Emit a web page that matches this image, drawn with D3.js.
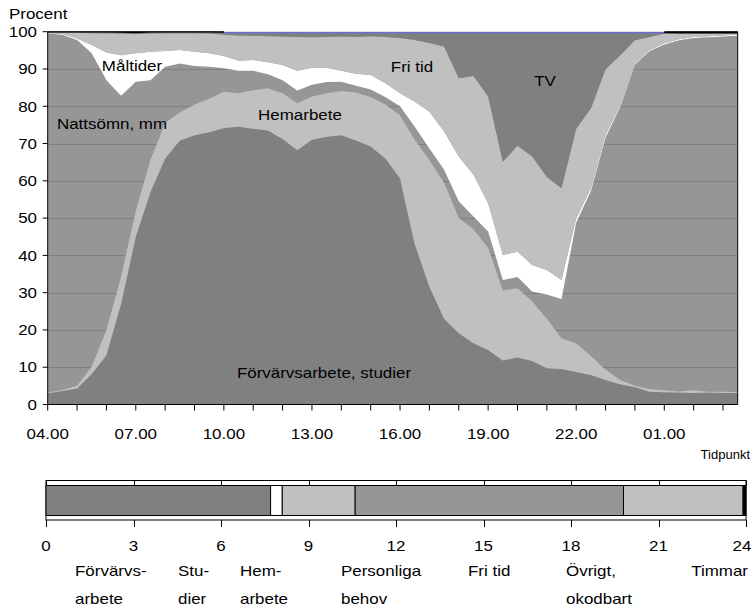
<!DOCTYPE html>
<html><head><meta charset="utf-8">
<script src="https://cdn.jsdelivr.net/npm/d3@7"></script>
<style>body{margin:0;background:#fff}text{font-family:"Liberation Sans",Arial,sans-serif;fill:#000}</style>
</head><body><svg id="c" width="753" height="608"></svg>
<script>
// ---- DATA (percent of population, half-hour points 04.00 ... 03.30) ----
const timeLabels = ["04.00","07.00","10.00","13.00","16.00","19.00","22.00","01.00"];
const seriesNames = ["Förvärvsarbete, studier","Hemarbete","Nattsömn, mm","Måltider","Fri tid","TV","Övrigt"];
const forvarv   = [3.0,3.6,4.3,8.2,13.2,27.0,45.0,57.0,66.0,70.8,72.2,73.0,74.2,74.5,74.0,73.5,71.2,68.2,71.0,71.8,72.2,70.8,69.2,66.0,60.7,43.0,31.6,23.0,19.1,16.4,14.6,11.8,12.6,11.7,9.7,9.5,8.7,7.9,6.6,5.4,4.6,3.4,3.3,3.2,3.1,3.2,3.1,3.1];
const hemarbete = [0.2,0.3,0.7,1.9,6.8,7.3,7.0,8.6,9.5,7.5,8.3,9.0,9.7,9.0,10.3,11.3,12.3,12.6,11.6,11.7,11.9,12.9,13.3,14.5,16.8,28.0,33.9,36.5,30.9,30.6,27.4,18.8,18.6,15.9,13.3,8.3,7.7,5.1,2.7,1.2,0.4,0.7,0.5,0.3,0.7,0.2,0.3,0.2];
const nattsomn  = [96.3,95.3,92.8,84.1,67.0,48.5,34.6,21.4,15.1,13.2,10.3,8.6,6.3,6.0,5.2,3.8,3.5,3.4,3.2,3.0,2.5,1.8,2.0,2.0,2.5,3.5,3.2,3.5,4.5,3.4,4.4,2.8,3.0,2.7,6.5,10.5,32.4,44.3,62.3,73.3,86.2,90.7,92.8,94.2,94.5,95.1,95.3,95.6];
const maltider  = [0.1,0.2,0.4,2.2,7.4,10.9,7.6,7.6,4.2,3.6,3.8,3.6,3.3,2.7,2.9,3.2,4.1,5.3,4.5,3.8,2.9,3.2,3.9,3.7,3.5,6.7,9.8,10.2,12.0,11.2,7.6,6.7,6.8,7.1,6.6,5.1,1.1,0.7,0.7,0.4,0.3,0.3,0.3,0.3,0.3,0.3,0.3,0.3];
const friTid    = [0.2,0.4,1.5,3.2,5.2,5.8,5.2,4.9,4.8,4.5,5.0,5.3,5.7,6.8,6.5,7.0,7.6,9.1,8.2,8.3,9.2,9.9,10.4,12.4,14.8,16.6,18.5,22.8,21.0,26.5,28.6,25.0,28.4,29.1,24.9,24.6,24.1,21.4,17.6,13.4,6.2,3.5,2.6,1.5,0.9,0.7,0.5,0.3];
const tv        = [0,0,0.1,0.2,0.2,0.2,0.2,0.3,0.2,0.2,0.2,0.3,0.5,0.7,0.8,0.9,1.0,1.1,1.2,1.1,1.0,1.1,0.9,1.1,1.4,1.9,2.7,3.7,12.2,11.6,17.1,34.6,30.3,33.2,38.7,41.7,25.7,20.3,9.8,6.0,2.0,1.1,0.1,0,0,0,0,0];
const ovrigt    = [0.2,0.2,0.2,0.2,0.2,0.3,0.4,0.2,0.2,0.2,0.2,0.2,0.3,0.3,0.3,0.3,0.3,0.3,0.3,0.3,0.3,0.3,0.3,0.3,0.3,0.3,0.3,0.3,0.3,0.3,0.3,0.3,0.3,0.3,0.3,0.3,0.3,0.3,0.3,0.3,0.3,0.3,0.4,0.5,0.5,0.5,0.5,0.5];
const yTicks = [0,10,20,30,40,50,60,70,80,90,100];

// 24-hour bar (hours per average day)
const barCategories = ["Förvärvsarbete","Studier","Hemarbete","Personliga behov","Fri tid","Övrigt, okodbart"];
const barHours = [7.7,0.4,2.5,9.2,4.1,0.1];
const barLabelLines = [["Förvärvs-","arbete"],["Stu-","dier"],["Hem-","arbete"],["Personliga","behov"],["Fri tid"],["Övrigt,","okodbart"]];
const hourTicks = [0,3,6,9,12,15,18,21,24];

// ---- DRAWING ----
const svg = d3.select("#c");
svg.append("rect").attr("width",753).attr("height",608).attr("fill","#fff");
const SX = 1.13;
function txt(g, px, py, s, anchor, size, sx){
  return g.append("text").attr("transform",`translate(${px},${py}) scale(${sx||SX},1)`)
    .attr("text-anchor",anchor||"start").attr("dy","0.35em")
    .style("font-size",(size||15)+"px").text(s);
}

const n = forvarv.length;
const x = d3.scaleLinear().domain([0,n-1]).range([47.7,737.7]);
const y = d3.scaleLinear().domain([0,100]).range([404.5,31.7]);

const rows = d3.range(n).map(i=>({i, forv:forvarv[i], hem:hemarbete[i], natt:nattsomn[i], malt:maltider[i], fri:friTid[i], tv:tv[i], ovr:ovrigt[i]}));
const keys = ["forv","hem","natt","malt","fri","tv","ovr"];
const fills = {forv:"#808080", hem:"#c0c0c0", natt:"none", malt:"#ffffff", fri:"#c0c0c0", tv:"#808080", ovr:"#000000"};
const stacked = d3.stack().keys(keys)(rows);

svg.append("clipPath").attr("id","pc").append("rect")
  .attr("x",x(0)).attr("y",y(100)).attr("width",x(n-1)-x(0)).attr("height",y(0)-y(100));
const plot = svg.append("g").attr("clip-path","url(#pc)");
plot.append("rect").attr("x",x(0)).attr("y",y(100)).attr("width",x(n-1)-x(0)).attr("height",y(0)-y(100)).attr("fill","#969696");
plot.selectAll("line.grid").data(yTicks.filter(t=>t>0&&t<100)).join("line")
  .attr("x1",x(0)).attr("x2",x(n-1)).attr("y1",d=>Math.round(y(d))+0.5).attr("y2",d=>Math.round(y(d))+0.5)
  .attr("stroke","#808080").attr("stroke-width",1);
const area = d3.area().x(d=>x(d.data.i)).y0(d=>y(d[0])).y1(d=>y(d[1]));
plot.selectAll("path.layer").data(stacked).join("path")
  .attr("d",area).attr("fill",d=>fills[d.key]).attr("stroke","none");
// blue top edge (okodbart) 10.00 - 01.00
const topLine = d3.line().x(d=>x(d.data.i)).y(d=>y(d[1])+0.8);
plot.append("path").attr("d",topLine(stacked[6].filter(d=>d.data.i>=12&&d.data.i<=42)))
  .attr("fill","none").attr("stroke","#6b6bd8").attr("stroke-width",1.6);

// frame & axes
const ax = svg.append("g").attr("stroke","#000").attr("stroke-width",1).attr("fill","none");
ax.append("line").attr("x1",x(0)).attr("x2",x(0)).attr("y1",y(100)).attr("y2",y(0));
ax.append("line").attr("x1",x(0)).attr("x2",x(n-1)).attr("y1",y(0)).attr("y2",y(0));
ax.append("line").attr("x1",x(n-1)).attr("x2",x(n-1)).attr("y1",y(100)).attr("y2",y(0));
ax.append("line").attr("x1",x(0)).attr("x2",x(12)).attr("y1",y(100)).attr("y2",y(100));
ax.append("line").attr("x1",x(42)).attr("x2",x(n-1)).attr("y1",y(100)).attr("y2",y(100));
ax.selectAll("line.yt").data(yTicks).join("line").attr("x1",x(0)-5).attr("x2",x(0)).attr("y1",d=>y(d)).attr("y2",d=>y(d));
ax.selectAll("line.xt").data(d3.range(0,n,2)).join("line").attr("x1",d=>x(d)).attr("x2",d=>x(d)).attr("y1",y(0)).attr("y2",y(0)+6);

const tg = svg.append("g");
yTicks.forEach(t=>txt(tg, 37, y(t), String(t), "end"));
timeLabels.forEach((l,k)=>txt(tg, x(k*6), 434, l, "middle"));
txt(tg, 9, 14, "Procent", "start");
txt(tg, 750, 454, "Tidpunkt", "end", 13, 1.0);

// in-plot labels
txt(tg, 132, 66, "Måltider", "middle");
txt(tg, 112, 124, "Nattsömn, mm", "middle");
txt(tg, 300, 115, "Hemarbete", "middle");
txt(tg, 412, 67, "Fri tid", "middle");
txt(tg, 545, 81, "TV", "middle");
txt(tg, 324, 373, "Förvärvsarbete, studier", "middle");

// ---- 24h bar ----
const hx = d3.scaleLinear().domain([0,24]).range([46,746]);
const barFills = ["#808080","#ffffff","#c0c0c0","#969696","#c0c0c0","#000000"];
const cum = d3.cumsum(barHours);
const segs = barHours.map((h,k)=>({k, x0:cum[k]-h, x1:cum[k]}));
const bg = svg.append("g");
bg.append("rect").attr("x",hx(0)).attr("y",480.5).attr("width",hx(24)-hx(0)).attr("height",39.5)
  .attr("fill","none").attr("stroke","#000");
bg.selectAll("rect.seg").data(segs).join("rect")
  .attr("x",d=>hx(d.x0)).attr("width",d=>hx(d.x1)-hx(d.x0)).attr("y",485.5).attr("height",30)
  .attr("fill",d=>barFills[d.k]).attr("stroke","#000").attr("stroke-width",1);
bg.selectAll("line.ht").data(hourTicks).join("line")
  .attr("x1",d=>Math.round(hx(d))+0.5).attr("x2",d=>Math.round(hx(d))+0.5).attr("y1",520).attr("y2",527).attr("stroke","#000");
bg.selectAll("line.ht2").data(hourTicks).join("line")
  .attr("x1",d=>Math.round(hx(d))+0.5).attr("x2",d=>Math.round(hx(d))+0.5).attr("y1",480.5).attr("y2",485.5).attr("stroke","#000");
hourTicks.forEach(h=>txt(bg, Math.min(hx(h), 742), 546, String(h), "middle"));
const labelX = [75,178,240,341,468,566];
barLabelLines.forEach((lines,k)=>lines.forEach((s,j)=>txt(bg, labelX[k], 571+j*28, s, "start")));
txt(bg, 748, 571, "Timmar", "end");
</script></body></html>
